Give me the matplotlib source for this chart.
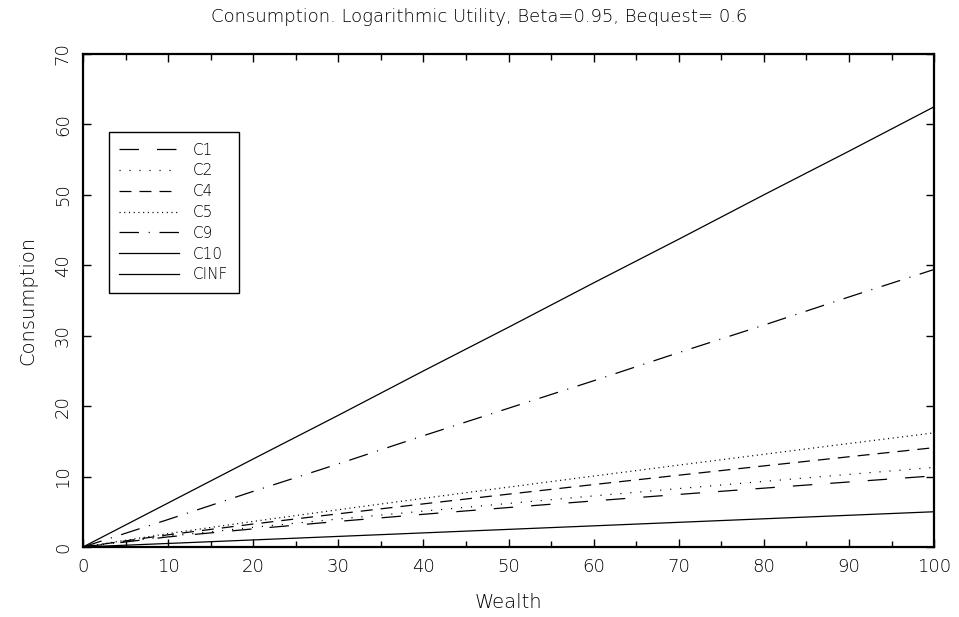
import matplotlib

matplotlib.use("Agg")
import matplotlib.pyplot as plt
from matplotlib.ticker import MultipleLocator

# Consumption paths by horizon, read on a 10-unit wealth grid.
wealth = [0, 10, 20, 30, 40, 50, 60, 70, 80, 90, 100]
c1 = [0, 1.43, 2.57, 3.63, 4.64, 5.60, 6.54, 7.46, 8.35, 9.23, 10.1]
c2 = [0, 1.52, 2.79, 3.97, 5.09, 6.18, 7.25, 8.29, 9.31, 10.31, 11.3]
c4 = [0, 1.73, 3.26, 4.71, 6.12, 7.50, 8.86, 10.19, 11.51, 12.81, 14.1]
c5 = [0, 1.90, 3.63, 5.29, 6.91, 8.50, 10.07, 11.62, 13.16, 14.69, 16.2]
c9 = [0, 3.9, 7.9, 11.8, 15.8, 19.7, 23.6, 27.6, 31.5, 35.5, 39.4]
c10 = [0, 6.25, 12.5, 18.7, 25.0, 31.2, 37.5, 43.7, 50.0, 56.2, 62.5]
cinf = [0, 0.5, 1.0, 1.5, 2.0, 2.5, 3.0, 3.5, 4.0, 4.5, 5.0]

labels = ["C1", "C2", "C4", "C5", "C9", "C10", "CINF"]
series = [c1, c2, c4, c5, c9, c10, cinf]
# dash patterns in points (not scaled by line width)
styles = [
    (0, (14, 13)),
    (0, (0.8, 6.4)),
    (0, (8.6, 5.8)),
    (0, (0.8, 2.6)),
    (0, (14, 7, 0.8, 7)),
    "-",
    "-",
]

plt.rcParams["font.family"] = "DejaVu Sans"
plt.rcParams["font.weight"] = "light"
plt.rcParams["axes.titleweight"] = "light"
plt.rcParams["axes.labelweight"] = "light"
plt.rcParams["lines.scale_dashes"] = False

fig = plt.figure(figsize=(9.59, 6.17), dpi=100)
ax = fig.add_axes([0.0866, 0.1135, 0.8874, 0.799])

for lab, ys, ls in zip(labels, series, styles):
    ax.plot(wealth, ys, color="black", lw=0.9, ls=ls, label=lab)

ax.set_xlim(0, 100)
ax.set_ylim(0, 70)
ax.xaxis.set_major_locator(MultipleLocator(10))
ax.xaxis.set_minor_locator(MultipleLocator(5))
ax.yaxis.set_major_locator(MultipleLocator(10))
ax.tick_params(which="both", direction="in", top=True, right=True,
               width=1.0, labelsize=13, colors="black")
ax.tick_params(which="major", length=6)
ax.tick_params(which="minor", length=4)
ax.tick_params(axis="x", pad=8)
ax.tick_params(axis="y", pad=8)
for t in ax.get_yticklabels():
    t.set_rotation(90)
    t.set_va("center")
for s in ax.spines.values():
    s.set_linewidth(1.6)

ax.set_xlabel("Wealth", fontsize=14, labelpad=12)
ax.set_ylabel("Consumption", fontsize=14, labelpad=12)
fig.text(0.5, 0.972, "Consumption. Logarithmic Utility, Beta=0.95, Bequest= 0.6",
         fontsize=13, ha="center", va="center")

leg = ax.legend(loc="upper left", bbox_to_anchor=(0.03, 0.842), fontsize=11,
                handlelength=3.9, handletextpad=0.9, labelspacing=0.38,
                borderpad=0.7, borderaxespad=0, fancybox=False, framealpha=1,
                edgecolor="black")
leg.get_frame().set_linewidth(1.0)

fig.savefig("out.png", dpi=100)
